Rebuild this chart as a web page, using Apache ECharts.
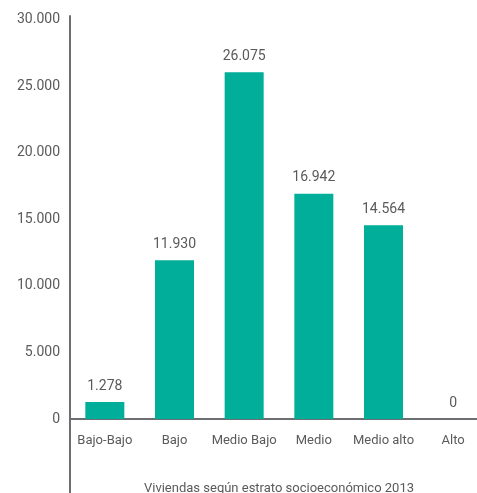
<!DOCTYPE html>
<html><head><meta charset="utf-8">
<script src="https://cdn.jsdelivr.net/npm/echarts@6/dist/echarts.min.js"></script>
<style>html,body{margin:0;padding:0;background:#fff}#c{width:477px;height:493px}</style>
</head><body><div id="c"></div>
<script>
const categories = ['Bajo-Bajo', 'Bajo', 'Medio Bajo', 'Medio', 'Medio alto', 'Alto'];
const viviendas = [1278, 11930, 26075, 16942, 14564, 0];
const axisTitle = 'Viviendas según estrato socioeconómico 2013';

function fmt(v) {
  return String(Math.round(v)).replace(/\B(?=(\d{3})+(?!\d))/g, '.');
}
const FONT = 'Roboto';
const TXT = '#5a5a5a';
const AXIS = '#6d6e71';

const chart = echarts.init(document.getElementById('c'), null, {renderer: 'canvas'});
chart.setOption({
  animation: false,
  grid: [
    {left: 70, right: -11, top: 16, bottom: 74, containLabel: false, outerBoundsMode: 'none'},
    {left: 70, right: -11, top: 419, bottom: 0, containLabel: false, outerBoundsMode: 'none'}
  ],
  xAxis: [{
    type: 'category', gridIndex: 0, data: categories,
    axisLine: {lineStyle: {color: AXIS, width: 2}},
    axisTick: {show: false},
    axisLabel: {color: TXT, fontFamily: FONT, fontSize: 13, margin: 15, interval: 0},
    name: axisTitle, nameLocation: 'middle', nameGap: 63,
    nameTextStyle: {color: TXT, fontFamily: FONT, fontSize: 13}
  }, {
    type: 'category', gridIndex: 1, data: categories, show: false
  }],
  yAxis: [{
    type: 'value', gridIndex: 0, min: 0, max: 30300, interval: 5000,
    axisLine: {show: true, lineStyle: {color: AXIS, width: 2}},
    axisTick: {show: false},
    splitLine: {show: false},
    axisLabel: {color: TXT, fontFamily: FONT, fontSize: 14, margin: 10,
      formatter: v => (v % 5000 === 0 ? fmt(v) : '')}
  }, {
    type: 'value', gridIndex: 1, min: 0, max: 1,
    axisLine: {show: true, lineStyle: {color: AXIS, width: 2}},
    axisTick: {show: false}, axisLabel: {show: false}, splitLine: {show: false}
  }],
  series: [{
    type: 'bar', xAxisIndex: 0, yAxisIndex: 0, data: viviendas,
    barWidth: 39,
    itemStyle: {color: '#00ae99'},
    label: {show: true, position: 'top', distance: 9, color: TXT,
      fontFamily: FONT, fontSize: 14, formatter: p => fmt(p.value)}
  }]
});
</script></body></html>
